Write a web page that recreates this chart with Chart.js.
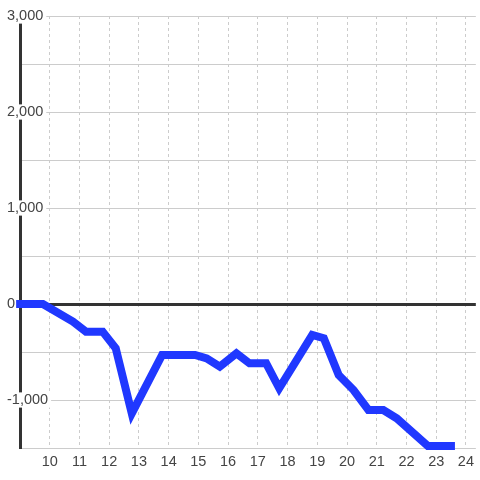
<!DOCTYPE html>
<html lang="en">
<head>
<meta charset="UTF-8">
<title>Line chart</title>
<script src="https://cdn.jsdelivr.net/npm/chart.js"></script>
<style>
    body {
        margin: 0;
        padding: 0;
        background: #ffffff;
    }
    .wrap {
        width: 480px;
        height: 480px;
        position: relative;
    }
</style>
</head>
<body>
<div class="wrap">
    <canvas id="chart"></canvas>
</div>
<script>
    // values
    const xValues = [8.87, 9.77, 10.78, 11.22, 11.78, 12.22, 12.76, 13.78, 14.89, 15.28, 15.72,
                     16.28, 16.72, 17.28, 17.72, 18.83, 19.22, 19.72, 20.22, 20.72, 21.22,
                     21.67, 22.72, 23.63];
    const yValues = [0, 0, -184, -288, -288, -461, -1140, -531, -531, -566, -653,
                     -514, -618, -618, -878, -323, -357, -740, -896, -1104, -1104,
                     -1191, -1479, -1479];
    const xTicks = [10, 11, 12, 13, 14, 15, 16, 17, 18, 19, 20, 21, 22, 23, 24];
    const yMin = -1500, yMax = 3000, yStep = 500, yLabelStep = 1000;
    const xMin = 9, xMax = 24.333;

    const points = xValues.map((x, i) => ({ x: x, y: yValues[i] }));
    const labelFont = { family: 'Liberation Sans, Arial, sans-serif', size: 14.5, lineHeight: 1.05 };

    const ctx = document.getElementById('chart').getContext('2d');
    const chart = new Chart(ctx, {
        type: 'line',
        data: {
            datasets: [{
                data: points,
                borderColor: '#2038ff',
                borderWidth: 8,
                borderJoinStyle: 'miter',
                borderCapStyle: 'butt',
                pointRadius: 0,
                fill: false,
                tension: 0,
                clip: false
            }]
        },
        options: {
            animation: false,
            responsive: true,
            maintainAspectRatio: false,
            layout: { padding: { top: 16, left: 0, right: 0, bottom: 0 } },
            plugins: {
                legend: { display: false },
                tooltip: { enabled: false }
            },
            scales: {
                x: {
                    type: 'linear',
                    min: xMin,
                    max: xMax,
                    afterBuildTicks: s => { s.ticks = xTicks.map(v => ({ value: v })); },
                    afterFit: s => { s.height = 32; },
                    border: { display: false, dash: [3, 3] },
                    grid: { color: '#cccccc', lineWidth: 1, drawTicks: false },
                    ticks: {
                        autoSkip: false,
                        maxRotation: 0,
                        padding: 6,
                        color: '#444444',
                        font: labelFont
                    }
                },
                y: {
                    min: yMin,
                    max: yMax,
                    afterFit: s => { s.width = 20; },
                    border: { display: true, color: '#333333', width: 3 },
                    grid: {
                        drawTicks: false,
                        color: c => c.tick && c.tick.value === 0 ? '#333333' : '#cccccc',
                        lineWidth: c => c.tick && c.tick.value === 0 ? 3 : 1
                    },
                    ticks: {
                        stepSize: yStep,
                        autoSkip: false,
                        mirror: true,
                        padding: -13,
                        color: '#444444',
                        font: labelFont,
                        showLabelBackdrop: c => c.tick && c.tick.value % yLabelStep === 0,
                        backdropColor: '#ffffff',
                        backdropPadding: { left: 3, right: 3, top: 0, bottom: 0 },
                        callback: v => v % yLabelStep === 0 ? v.toLocaleString('en-US') : ''
                    }
                }
            }
        }
    });
</script>
</body>
</html>
